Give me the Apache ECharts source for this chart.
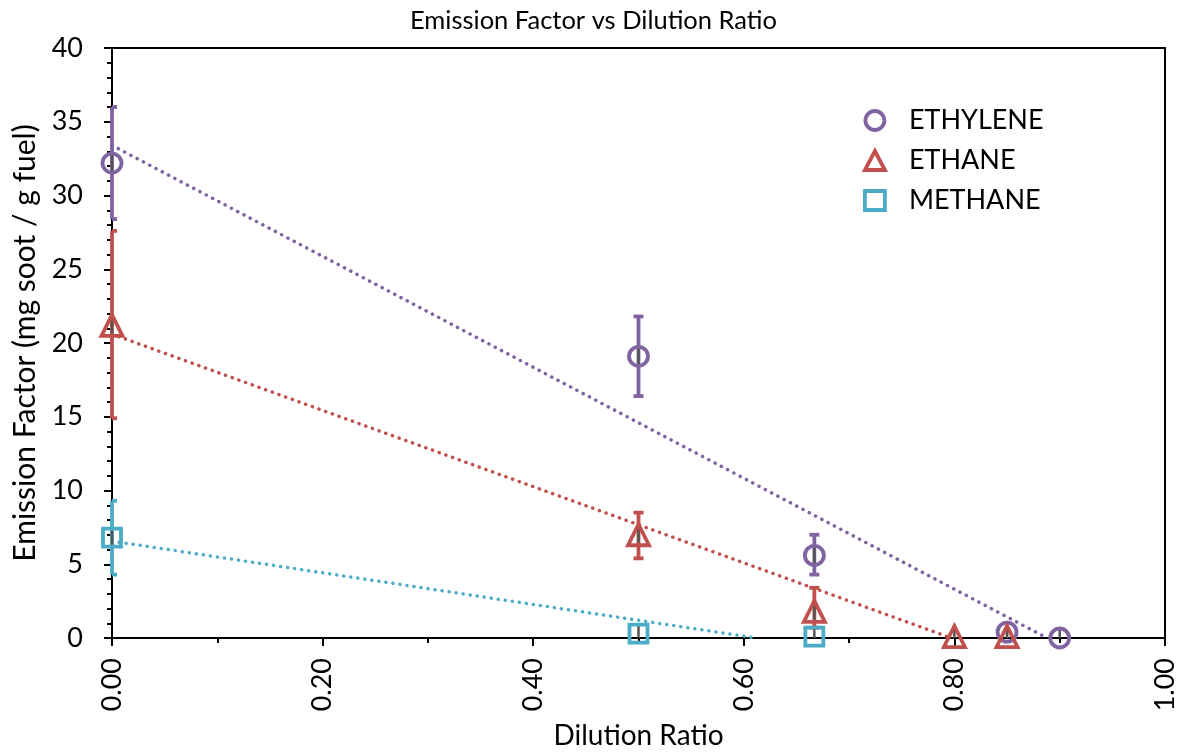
<!DOCTYPE html>
<html>
<head>
<meta charset="utf-8">
<script src="https://cdn.jsdelivr.net/npm/echarts@6/dist/echarts.min.js"></script>
<style>html,body{margin:0;padding:0;background:#fff;}#c{width:1187px;height:755px;}</style>
</head>
<body>
<div id="c"></div>
<script>
// ---- data ----
const seriesNames = ['ETHYLENE', 'ETHANE', 'METHANE'];
const ethyleneX = [0, 0.5, 0.667, 0.85, 0.9];
const ethyleneY = [32.2, 19.1, 5.6, 0.4, 0.0];
const ethyleneLow = [28.4, 16.4, 4.3, 0.4, 0.0];
const ethyleneHigh = [36.0, 21.8, 7.0, 0.4, 0.0];
const ethaneX = [0, 0.5, 0.667, 0.8, 0.85];
const ethaneY = [21.2, 7.0, 1.8, 0.1, 0.1];
const ethaneLow = [14.9, 5.4, 0.7, 0.1, 0.1];
const ethaneHigh = [27.6, 8.5, 3.4, 0.1, 0.1];
const methaneX = [0, 0.5, 0.667];
const methaneY = [6.8, 0.3, 0.1];
const methaneLow = [4.3, 0.3, 0.1];
const methaneHigh = [9.3, 0.3, 0.1];
// linear trendline end points (as drawn)
const ethyleneTrend = [[0, 33.4], [0.888, 0]];
const ethaneTrend = [[0, 20.6], [0.797, 0]];
const methaneTrend = [[0, 6.57], [0.612, 0]];
const xTicks = [0, 0.2, 0.4, 0.6, 0.8, 1.0];
const yTicks = [0, 5, 10, 15, 20, 25, 30, 35, 40];

const colors = ['#8064A2', '#C0504D', '#4BACC6'];
const FONT = 'Lato';

function pts(xs, ys) { return xs.map((x, i) => [x, ys[i]]); }
function errs(xs, ys, lo, hi) { return xs.map((x, i) => [x, ys[i], lo[i], hi[i]]); }

function errSeries(data, color) {
  return {
    type: 'custom',
    data: data,
    z: 3,
    silent: true,
    encode: { x: 0, y: [1, 2, 3] },
    renderItem: function (params, api) {
      const cs = params.coordSys;
      const x = api.value(0);
      const c = api.coord([x, api.value(1)]);
      const lo = api.coord([x, api.value(2)]);
      const hi = api.coord([x, api.value(3)]);
      const children = [];
      if (Math.abs(lo[1] - hi[1]) > 1) {
        const capL = Math.max(c[0] - 5, cs.x);
        const capR = c[0] + 5;
        const st = { stroke: color, lineWidth: 3.8 };
        children.push({ type: 'line', shape: { x1: c[0], y1: lo[1], x2: c[0], y2: hi[1] }, style: st });
        children.push({ type: 'line', shape: { x1: capL, y1: lo[1], x2: capR, y2: lo[1] }, style: st });
        children.push({ type: 'line', shape: { x1: capL, y1: hi[1], x2: capR, y2: hi[1] }, style: st });
      }
      children.push({ type: 'line', shape: { x1: c[0], y1: c[1] - 8, x2: c[0], y2: Math.min(c[1] + 8, cs.y + cs.height) }, style: { stroke: '#555', lineWidth: 2.5 } });
      return { type: 'group', children: children };
    }
  };
}

function trendSeries(data, color) {
  return {
    type: 'line', data: data, symbol: 'none', silent: true, z: 2,
    lineStyle: { color: color, width: 3.5, type: [0.1, 7], cap: 'round' }
  };
}

function scatterSeries(name, data, symbol, color, size) {
  return {
    name: name, type: 'scatter', data: data, symbol: symbol, symbolSize: size,
    clip: false, z: 5,
    itemStyle: { color: 'rgba(255,255,255,0)', borderColor: color, borderWidth: 3.8, opacity: 1 },
    emphasis: { disabled: true }
  };
}

const chart = echarts.init(document.getElementById('c'), null, { renderer: 'canvas' });
chart.setOption({
  animation: false,
  backgroundColor: '#fff',
  title: {
    text: 'Emission Factor vs Dilution Ratio', left: 'center', top: 3,
    textStyle: { fontFamily: FONT, fontSize: 25.5, fontWeight: 'normal', color: '#000' }
  },
  legend: {
    orient: 'vertical', left: 858, top: 102, itemGap: 13, itemWidth: 20, itemHeight: 19,
    data: seriesNames,
    itemStyle: { borderWidth: 3.8 },
    textStyle: { fontFamily: FONT, fontSize: 27, color: '#000', padding: [0, 0, 0, 19] },
    selectedMode: false
  },
  grid: {
    left: 112, right: 22, top: 48, bottom: 115,
    show: true, borderColor: '#000', borderWidth: 2, backgroundColor: 'transparent'
  },
  xAxis: {
    type: 'value', min: 0, max: 1, interval: 0.2,
    name: 'Dilution Ratio', nameLocation: 'middle', nameGap: 84,
    nameTextStyle: { fontFamily: FONT, fontSize: 28, color: '#000' },
    axisLine: { show: true, lineStyle: { color: '#000', width: 2 } },
    axisTick: { show: true, inside: false, length: 8, lineStyle: { color: '#000', width: 2 } },
    minorTick: { show: true, splitNumber: 2, length: 5, lineStyle: { color: '#000', width: 2 } },
    axisLabel: {
      rotate: 90, margin: 20, fontFamily: FONT, fontSize: 27, color: '#000',
      formatter: v => (xTicks.some(t => Math.abs(t - v) < 1e-9) ? v.toFixed(2) : '')
    },
    splitLine: { show: false }
  },
  yAxis: {
    type: 'value', min: 0, max: 40, interval: 5,
    name: 'Emission Factor (mg soot / g fuel)', nameLocation: 'middle', nameGap: 68,
    nameTextStyle: { fontFamily: FONT, fontSize: 30, color: '#000' },
    axisLine: { show: true, lineStyle: { color: '#000', width: 2 } },
    axisTick: { show: true, inside: false, length: 8, lineStyle: { color: '#000', width: 2 } },
    minorTick: { show: true, splitNumber: 5, length: 5, lineStyle: { color: '#000', width: 2 } },
    axisLabel: {
      margin: 29, fontFamily: FONT, fontSize: 27, color: '#000',
      formatter: v => (yTicks.indexOf(v) >= 0 ? String(v) : '')
    },
    splitLine: { show: false }
  },
  series: [
    trendSeries(ethyleneTrend, colors[0]),
    trendSeries(ethaneTrend, colors[1]),
    trendSeries(methaneTrend, colors[2]),
    errSeries(errs(ethyleneX, ethyleneY, ethyleneLow, ethyleneHigh), colors[0]),
    errSeries(errs(ethaneX, ethaneY, ethaneLow, ethaneHigh), colors[1]),
    errSeries(errs(methaneX, methaneY, methaneLow, methaneHigh), colors[2]),
    scatterSeries(seriesNames[0], pts(ethyleneX, ethyleneY), 'circle', colors[0], 19),
    scatterSeries(seriesNames[1], pts(ethaneX, ethaneY), 'triangle', colors[1], 21),
    scatterSeries(seriesNames[2], pts(methaneX, methaneY), 'rect', colors[2], 18)
  ]
});
</script>
</body>
</html>
